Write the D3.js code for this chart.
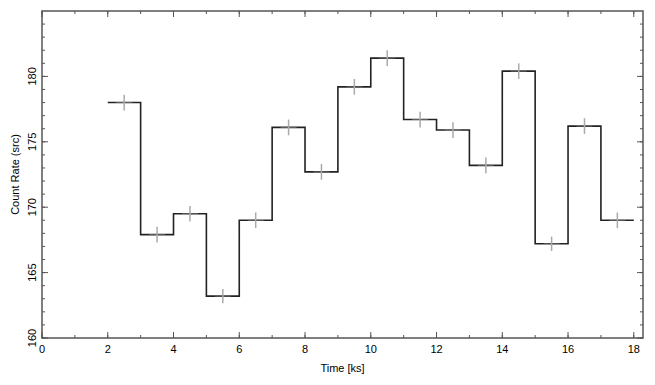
<!DOCTYPE html>
<html>
<head>
<script src="https://d3js.org/d3.v7.min.js"></script>
<style>
body { margin: 0; background: #fff; font-family: 'Liberation Sans', Arial, sans-serif; }
</style>
</head>
<body>
<svg id="chart" width="655" height="385"></svg>
<script>
// bin edges (ks) and count rates
var binStart = [2, 3, 4, 5, 6, 7, 8, 9, 10, 11, 12, 13, 14, 15, 16, 17];
var binWidth = 1;
var rates = [178.0, 167.9, 169.5, 163.2, 169.0, 176.1, 172.7, 179.2, 181.4, 176.7, 175.9, 173.2, 180.4, 167.2, 176.2, 169.0];
var rateErr = [0.6, 0.6, 0.6, 0.55, 0.6, 0.6, 0.6, 0.6, 0.6, 0.6, 0.6, 0.6, 0.6, 0.55, 0.6, 0.6];
var xTicks = [0, 2, 4, 6, 8, 10, 12, 14, 16, 18];
var yTicks = [160, 165, 170, 175, 180];

var svg = d3.select("#chart");
// plot box (window.top is reserved, so use pl* names)
var plLeft = 42, plRight = 643, plTop = 11, plBottom = 338;

var x = d3.scaleLinear().domain([0, 18.28]).range([plLeft, plRight]);
var y = d3.scaleLinear().domain([160, 185]).range([plBottom, plTop]);

var frameColor = "#555";

// minor ticks every 1 unit
var xMinor = d3.range(0, 19, 1);
var yMinor = d3.range(160, 185, 1);

var g = svg.append("g");

// step line
var pts = [];
binStart.forEach(function (b, i) {
    pts.push([b, rates[i]]);
    pts.push([b + binWidth, rates[i]]);
});
var line = d3.line().x(function (d) { return x(d[0]); }).y(function (d) { return y(d[1]); });
g.append("path")
    .attr("d", line(pts))
    .attr("fill", "none")
    .attr("stroke", "#222")
    .attr("stroke-width", 1.6);

// error crosses
var err = g.selectAll("g.err").data(binStart).enter().append("g").attr("class", "err");
err.append("line")
    .attr("x1", function (d) { return x(d + binWidth / 2); })
    .attr("x2", function (d) { return x(d + binWidth / 2); })
    .attr("y1", function (d, i) { return y(rates[i] - rateErr[i]); })
    .attr("y2", function (d, i) { return y(rates[i] + rateErr[i]); })
    .attr("stroke", "#aaa").attr("stroke-width", 1.5);
err.append("line")
    .attr("x1", function (d) { return x(d + binWidth / 2) - 8; })
    .attr("x2", function (d) { return x(d + binWidth / 2) + 8; })
    .attr("y1", function (d, i) { return y(rates[i]); })
    .attr("y2", function (d, i) { return y(rates[i]); })
    .attr("stroke", "#aaa").attr("stroke-width", 0.8).attr("opacity", 0.6);

// frame
svg.append("rect")
    .attr("x", plLeft).attr("y", plTop)
    .attr("width", plRight - plLeft).attr("height", plBottom - plTop)
    .attr("fill", "none").attr("stroke", frameColor).attr("stroke-width", 1.5);

// ticks (inward) on all sides
function tickLines(vals, len, isX) {
    vals.forEach(function (v) {
        if (isX) {
            var px = x(v);
            svg.append("line").attr("x1", px).attr("x2", px).attr("y1", plBottom).attr("y2", plBottom - len)
                .attr("stroke", frameColor).attr("stroke-width", 1);
            svg.append("line").attr("x1", px).attr("x2", px).attr("y1", plTop).attr("y2", plTop + len)
                .attr("stroke", frameColor).attr("stroke-width", 1);
        } else {
            var py = y(v);
            svg.append("line").attr("x1", plLeft).attr("x2", plLeft + len).attr("y1", py).attr("y2", py)
                .attr("stroke", frameColor).attr("stroke-width", 1);
            svg.append("line").attr("x1", plRight).attr("x2", plRight - len).attr("y1", py).attr("y2", py)
                .attr("stroke", frameColor).attr("stroke-width", 1);
        }
    });
}
tickLines(xMinor, 3, true);
tickLines(xTicks, 6, true);
tickLines(yMinor, 3, false);
tickLines(yTicks, 6, false);

// tick labels
svg.selectAll("text.xt").data(xTicks).enter().append("text")
    .attr("class", "xt")
    .attr("x", function (d) { return x(d); })
    .attr("y", plBottom + 15)
    .attr("text-anchor", "middle")
    .style("font-size", "11px")
    .text(function (d) { return d; });

svg.selectAll("text.yt").data(yTicks).enter().append("text")
    .attr("class", "yt")
    .attr("transform", function (d) { return "translate(" + (plLeft - 6) + "," + y(d) + ") rotate(-90)"; })
    .attr("text-anchor", "middle")
    .style("font-size", "11px")
    .text(function (d) { return d; });

// axis titles
svg.append("text")
    .attr("x", (plLeft + plRight) / 2)
    .attr("y", 372)
    .attr("text-anchor", "middle")
    .style("font-size", "11px")
    .text("Time [ks]");

svg.append("text")
    .attr("transform", "translate(19," + ((plTop + plBottom) / 2) + ") rotate(-90)")
    .attr("text-anchor", "middle")
    .style("font-size", "11px")
    .text("Count Rate (src)");
</script>
</body>
</html>
